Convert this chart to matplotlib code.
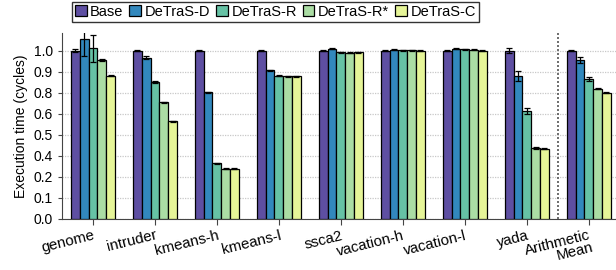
import numpy as np
import matplotlib
matplotlib.use("Agg")
import matplotlib.pyplot as plt

benchmarks = ["genome", "intruder", "kmeans-h", "kmeans-l", "ssca2",
              "vacation-h", "vacation-l", "yada", "Arithmetic\nMean"]
series = ["Base", "DeTraS-D", "DeTraS-R", "DeTraS-R*", "DeTraS-C"]
colors = ["#5e4fa2", "#3288bd", "#66c2a5", "#abdda4", "#e6f598"]

base = [1.0, 1.0, 1.0, 1.0, 1.0, 1.0, 1.0, 1.0, 1.0]
detras_d = [1.068, 0.958, 0.752, 0.883, 1.012, 1.006, 1.010, 0.849, 0.943]
detras_r = [1.014, 0.815, 0.330, 0.851, 0.990, 1.002, 1.008, 0.641, 0.830]
detras_rs = [0.945, 0.693, 0.298, 0.848, 0.986, 1.002, 1.006, 0.421, 0.774]
detras_c = [0.851, 0.581, 0.298, 0.848, 0.990, 1.000, 1.000, 0.417, 0.750]

err_base = [0.010, 0.005, 0.003, 0.003, 0.003, 0.003, 0.003, 0.016, 0.005]
err_d = [0.100, 0.008, 0.004, 0.003, 0.004, 0.004, 0.003, 0.028, 0.018]
err_r = [0.080, 0.006, 0.004, 0.003, 0.004, 0.004, 0.003, 0.016, 0.010]
err_rs = [0.005, 0.004, 0.003, 0.003, 0.003, 0.003, 0.003, 0.005, 0.005]
err_c = [0.005, 0.003, 0.003, 0.003, 0.003, 0.003, 0.003, 0.005, 0.003]

values = [base, detras_d, detras_r, detras_rs, detras_c]
errors = [err_base, err_d, err_r, err_rs, err_c]


def main():
    plt.rcParams['font.family'] = ['Liberation Sans', 'DejaVu Sans']
    plt.rcParams['font.size'] = 9.5

    fig = plt.figure(figsize=(6.16, 2.7), dpi=100)
    ax = fig.add_axes([0.1006, 0.19, 0.8994, 0.688])

    x = np.arange(len(benchmarks))
    w = 0.142
    for i, (name, vals, errs) in enumerate(zip(series, values, errors)):
        pos = x + (i - 2) * w
        ax.bar(pos, vals, w, color=colors[i], edgecolor='black',
               linewidth=0.9, label=name, zorder=3)
        ax.errorbar(pos, vals, yerr=errs, fmt='none', ecolor='black',
                    elinewidth=0.9, capsize=2, capthick=0.9, zorder=4)

    ax.axvline(7.5, color='#555555', linestyle=(0, (1.2, 1.2)),
               linewidth=1.2, zorder=2)

    ax.set_xlim(-0.5, len(benchmarks) - 0.56)
    ax.set_ylim(0, 1.105)
    yt = np.arange(0, 1.01, 0.125)
    ax.set_yticks(yt)
    ax.set_yticklabels(['%.1f' % v for v in yt])
    ax.yaxis.grid(True, color='#c8c8c8', linestyle=(0, (1, 1)), linewidth=0.9)
    ax.set_axisbelow(True)

    ax.set_xticks(x)
    ax.set_xticklabels(benchmarks, rotation=14, ha='right',
                       rotation_mode='anchor', fontsize=10.8, linespacing=0.85,
                       multialignment='right')

    ax.set_ylabel('Execution time (cycles)', fontsize=10)
    for s in ['top', 'right']:
        ax.spines[s].set_visible(False)
    ax.spines['left'].set_color('#444444')
    ax.spines['bottom'].set_color('#444444')
    ax.tick_params(axis='both', colors='#444444', labelcolor='black',
                   length=3, labelsize=10)
    ax.tick_params(axis='x', labelsize=10.8, pad=3, length=4)

    leg = ax.legend(ncol=5, loc='upper left', bbox_to_anchor=(0.018, 1.168),
                    frameon=True, fancybox=False, edgecolor='black',
                    handlelength=0.8, handleheight=0.8, handletextpad=0.25,
                    columnspacing=0.4, borderpad=0.2, fontsize=10.5,
                    borderaxespad=0)
    leg.get_frame().set_linewidth(1.0)

    plt.savefig("out.png", dpi=100)


if __name__ == '__main__':
    main()
